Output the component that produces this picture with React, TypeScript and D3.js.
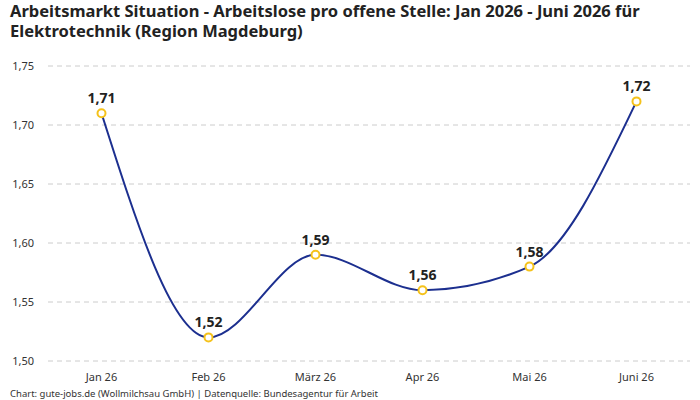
import React from "react";
import * as d3 from "d3";

const width = 700;
const height = 400;
const margin = { top: 66, right: 10, bottom: 39, left: 48 };

const months = ["Jan 26", "Feb 26", "März 26", "Apr 26", "Mai 26", "Juni 26"];
const ratios = [1.71, 1.52, 1.59, 1.56, 1.58, 1.72];
const yTicks = [1.5, 1.55, 1.6, 1.65, 1.7, 1.75];

const font = "'Noto Sans', sans-serif";
const fmt = (v: number) => v.toFixed(2).replace(".", ",");

const App = () => {
  const x = d3
    .scalePoint<string>()
    .domain(months)
    .range([margin.left, width - margin.right])
    .padding(0.5);

  const y = d3
    .scaleLinear()
    .domain([1.5, 1.75])
    .range([height - margin.bottom, margin.top]);

  const points: [number, number][] = months.map((m, i) => [x(m) as number, y(ratios[i])]);
  const line = d3.line().curve(d3.curveMonotoneX)(points) || "";

  return (
    <svg
      width={width}
      height={height}
      style={{ position: "absolute", left: 0, top: 0 }}
      fontFamily={font}
    >
      <rect width={width} height={height} fill="#fff" />
      <text x={10} y={17} fontSize={16.5} fontWeight={700} fill="#222">
        Arbeitsmarkt Situation - Arbeitslose pro offene Stelle: Jan 2026 - Juni 2026 für
      </text>
      <text x={10} y={37} fontSize={16.5} fontWeight={700} fill="#222">
        Elektrotechnik (Region Magdeburg)
      </text>

      {/* horizontal grid + y labels */}
      {yTicks.map((t) => (
        <g key={t}>
          <line
            x1={margin.left}
            x2={width - margin.right}
            y1={y(t)}
            y2={y(t)}
            stroke="#ccc"
            strokeDasharray="5,4"
          />
          <text x={34} y={y(t) + 4} fontSize={11} textAnchor="end" fill="#333">
            {fmt(t)}
          </text>
        </g>
      ))}

      {months.map((m) => (
        <text key={m} x={x(m)} y={381} fontSize={11} textAnchor="middle" fill="#333">
          {m}
        </text>
      ))}

      <path d={line} fill="none" stroke="#1c2f8f" strokeWidth={2} />

      {points.map(([px, py], i) => (
        <g key={months[i]}>
          <circle cx={px} cy={py} r={4} fill="#fff" stroke="#f5c21b" strokeWidth={2} />
          <text x={px} y={py - 10} fontSize={14} fontWeight={700} textAnchor="middle" fill="#222">
            {fmt(ratios[i])}
          </text>
        </g>
      ))}

      <text x={10} y={397} fontSize={9.5} fill="#333">
        Chart: gute-jobs.de (Wollmilchsau GmbH) | Datenquelle: Bundesagentur für Arbeit
      </text>
    </svg>
  );
};

export default App;
